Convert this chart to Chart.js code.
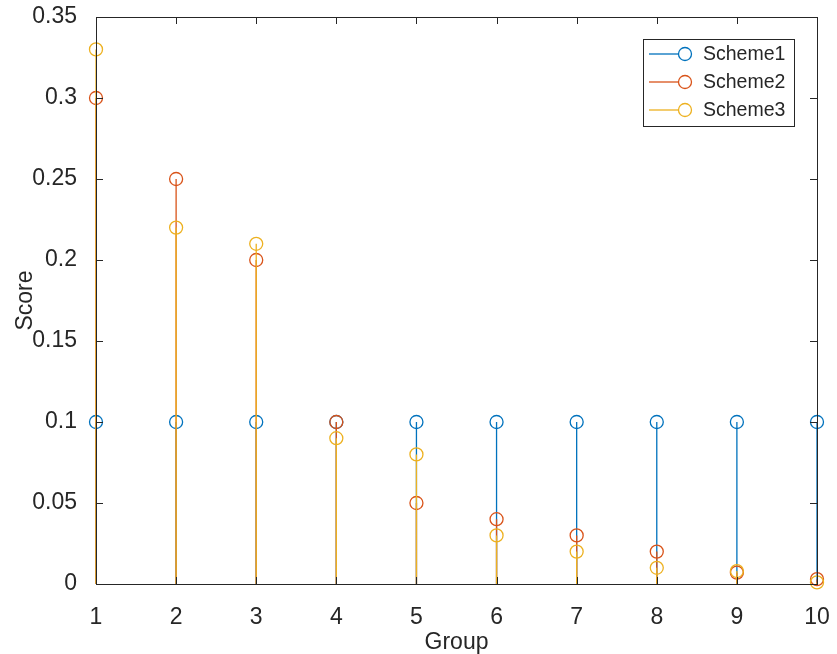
<!DOCTYPE html>
<html>
<head>
<meta charset="utf-8">
<script src="https://cdn.jsdelivr.net/npm/chart.js@4"></script>
<style>
  body { margin: 0; background: #fff; }
  #wrap { width: 837px; height: 654px; }
</style>
</head>
<body>
<div id="wrap"><canvas id="stemChart" width="837" height="654"></canvas></div>
<script>
    // Data
    const groups = [1, 2, 3, 4, 5, 6, 7, 8, 9, 10];
    const scheme1 = [0.1, 0.1, 0.1, 0.1, 0.1, 0.1, 0.1, 0.1, 0.1, 0.1];
    const scheme2 = [0.3, 0.25, 0.2, 0.1, 0.05, 0.04, 0.03, 0.02, 0.007, 0.003];
    const scheme3 = [0.33, 0.22, 0.21, 0.09, 0.08, 0.03, 0.02, 0.01, 0.008, 0.001];
    const seriesNames = ['Scheme1', 'Scheme2', 'Scheme3'];
    const yTicks = [0, 0.05, 0.1, 0.15, 0.2, 0.25, 0.3, 0.35];

    const colors = ['#0072BD', '#D95319', '#EDB120'];
    const axisColor = '#262626';
    const fontFamily = '"Liberation Sans", Arial, Helvetica, sans-serif';

    function toPoints(vals) {
      return groups.map((g, i) => ({ x: g, y: vals[i] }));
    }

    // stem lines drawn right before each series' markers (like MATLAB stem)
    const stemPlugin = {
      id: 'stems',
      beforeDatasetDraw(chart, args) {
        const ctx = chart.ctx;
        const ds = chart.data.datasets[args.index];
        const y0 = chart.scales.y.getPixelForValue(0);
        ctx.save();
        ctx.strokeStyle = ds.borderColor;
        ctx.lineWidth = 1.3;
        ctx.beginPath();
        args.meta.data.forEach(pt => {
          ctx.moveTo(pt.x, y0);
          ctx.lineTo(pt.x, pt.y);
        });
        ctx.stroke();
        ctx.restore();
      }
    };

    // box around axes with inward ticks on all four sides
    const boxPlugin = {
      id: 'axesBox',
      afterDatasetsDraw(chart) {
        const { ctx, chartArea: a, scales } = chart;
        const len = 7;
        ctx.save();
        ctx.strokeStyle = axisColor;
        ctx.lineWidth = 1;
        ctx.beginPath();
        groups.forEach(g => {
          const x = Math.round(scales.x.getPixelForValue(g)) + 0.5;
          ctx.moveTo(x, a.bottom); ctx.lineTo(x, a.bottom - len);
          ctx.moveTo(x, a.top); ctx.lineTo(x, a.top + len);
        });
        yTicks.forEach(v => {
          const y = Math.round(scales.y.getPixelForValue(v)) + 0.5;
          ctx.moveTo(a.left, y); ctx.lineTo(a.left + len, y);
          ctx.moveTo(a.right, y); ctx.lineTo(a.right - len, y);
        });
        ctx.stroke();
        ctx.strokeRect(Math.round(a.left) + 0.5, Math.round(a.top) + 0.5,
          Math.round(a.right - a.left), Math.round(a.bottom - a.top));
        ctx.restore();
      }
    };

    // MATLAB-style legend box, top right
    const legendPlugin = {
      id: 'boxLegend',
      afterDraw(chart) {
        const ctx = chart.ctx;
        const bx = 643, by = 39, bw = 151, bh = 87;
        ctx.save();
        ctx.fillStyle = '#fff';
        ctx.fillRect(bx, by, bw, bh);
        ctx.strokeStyle = axisColor;
        ctx.lineWidth = 1;
        ctx.strokeRect(bx + 0.5, by + 0.5, bw, bh);
        ctx.font = '19.5px ' + fontFamily;
        ctx.textBaseline = 'middle';
        seriesNames.forEach((name, i) => {
          const y = 54 + i * 28;
          ctx.strokeStyle = colors[i];
          ctx.lineWidth = 1.3;
          ctx.beginPath();
          ctx.moveTo(649, y); ctx.lineTo(679, y);
          ctx.stroke();
          ctx.beginPath();
          ctx.arc(685, y, 6.5, 0, Math.PI * 2);
          ctx.stroke();
          ctx.fillStyle = axisColor;
          ctx.fillText(name, 703, y + 1);
        });
        ctx.restore();
      }
    };

    function series(idx, vals, order) {
      return {
        label: seriesNames[idx],
        data: toPoints(vals),
        borderColor: colors[idx],
        backgroundColor: 'rgba(0,0,0,0)',
        showLine: false,
        pointStyle: 'circle',
        pointRadius: 6.5,
        pointHoverRadius: 6.5,
        pointBorderWidth: 1.3,
        clip: false,
        order: order
      };
    }

    // fixed axes box: left 96, right 817, top 17, bottom 584
    function noPad(s) {
      s.paddingTop = 0; s.paddingBottom = 0;
      s.paddingLeft = 0; s.paddingRight = 0;
    }

    new Chart(document.getElementById('stemChart'), {
      type: 'line',
      data: {
        datasets: [
          series(0, scheme1, 3),
          series(1, scheme2, 2),
          series(2, scheme3, 1)
        ]
      },
      options: {
        responsive: false,
        animation: false,
        events: [],
        layout: { padding: { left: 0, top: 17, right: 20, bottom: 0 } },
        plugins: { legend: { display: false }, tooltip: { enabled: false } },
        scales: {
          x: {
            type: 'linear',
            min: 1,
            max: 10,
            offset: false,
            grid: { display: false },
            border: { display: false },
            afterBuildTicks: s => { s.ticks = groups.map(v => ({ value: v })); },
            afterFit: s => { s.height = 70; noPad(s); },
            ticks: {
              color: axisColor,
              font: { family: fontFamily, size: 23 },
              padding: 12,
              maxRotation: 0,
              autoSkip: false
            },
            title: {
              display: true,
              text: 'Group',
              color: axisColor,
              font: { family: fontFamily, size: 23, lineHeight: 1 },
              padding: { top: 0, bottom: 0 }
            }
          },
          y: {
            min: 0,
            max: 0.35,
            grid: { display: false },
            border: { display: false },
            afterBuildTicks: s => { s.ticks = yTicks.map(v => ({ value: v })); },
            afterFit: s => { s.width = 96; noPad(s); },
            ticks: {
              color: axisColor,
              font: { family: fontFamily, size: 23 },
              padding: 11,
              callback: v => String(+v.toFixed(2))
            },
            title: {
              display: true,
              text: 'Score',
              color: axisColor,
              font: { family: fontFamily, size: 23, lineHeight: 1 },
              padding: { top: 14, bottom: 0 }
            }
          }
        }
      },
      plugins: [stemPlugin, boxPlugin, legendPlugin]
    });
</script>
</body>
</html>
